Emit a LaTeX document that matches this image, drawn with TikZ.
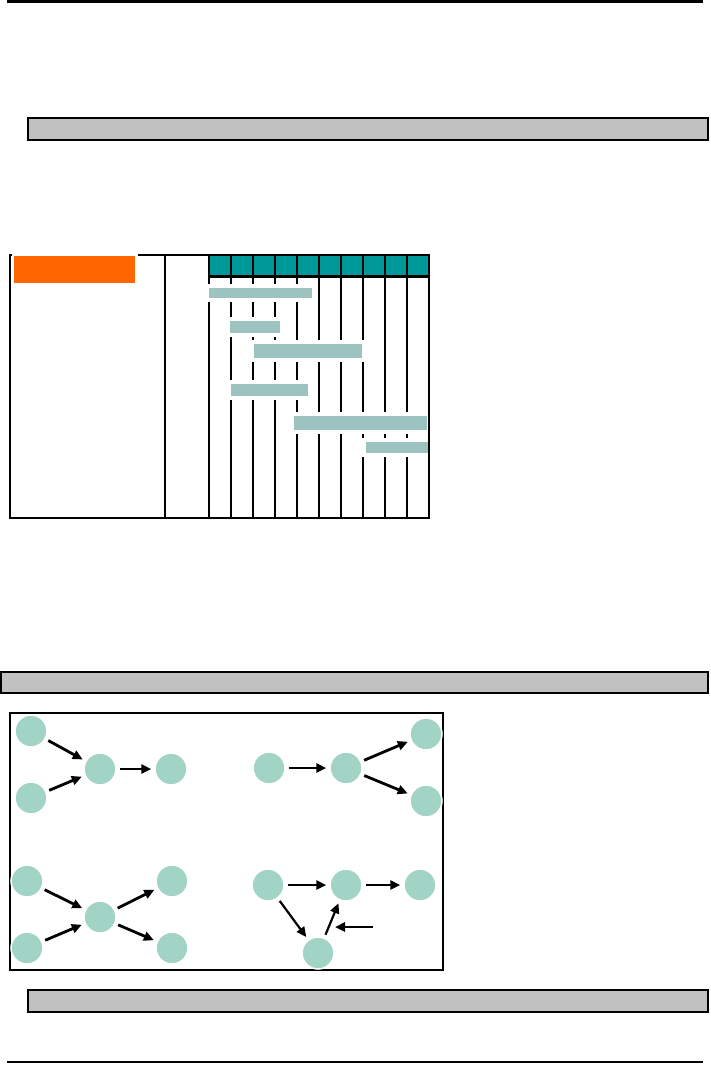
\documentclass[tikz,border=0pt]{standalone}
\usetikzlibrary{arrows.meta}
\definecolor{hdrteal}{RGB}{0,153,153}
\definecolor{barteal}{RGB}{157,195,193}
\definecolor{nodeteal}{RGB}{162,212,198}
\definecolor{boxgray}{RGB}{192,192,192}
\definecolor{tagorange}{RGB}{255,102,0}
\tikzset{
  state/.style={circle, fill=nodeteal, draw=white, line width=1.5pt, minimum size=32pt, inner sep=0pt},
  flow/.style={line width=2.8pt, -{Triangle[length=10pt,width=9pt]}, shorten <=3pt, shorten >=3pt},
  band/.style={fill=boxgray, draw=black, line width=2.2pt},
  task/.style={fill=barteal, preaction={draw=white, line width=8pt}}
}
\begin{document}
\begin{tikzpicture}[x=1pt,y=-1pt]
  \useasboundingbox (0,0) rectangle (710,1066);
  \draw[line width=2.5pt] (7,1.5) -- (703,1.5);
  \draw[band] (28,118) rectangle (708,140);
  % gantt chart
  \fill[hdrteal] (209,255) rectangle (429,276);
  \foreach \x in {209,231,...,429} \draw[line width=2.5pt] (\x,255) -- (\x,518);
  \draw[line width=3pt] (209,276) -- (429,276);
  \fill[task] (209,288) rectangle (312,298); \fill[task] (230,321) rectangle (280,333);
  \fill[task] (254,344) rectangle (362,358); \fill[task] (231,384) rectangle (308,396);
  \fill[task] (294,416) rectangle (427,430); \fill[task] (366,442) rectangle (428,453);
  \draw[line width=2.5pt] (10,255) rectangle (429,518); \draw[line width=2.5pt] (165,255) -- (165,518);
  \fill[tagorange, preaction={draw=white, line width=5pt}] (14,256) rectangle (135,283);
  \draw[band] (1,672) rectangle (708,693);
  % graph patterns
  \draw[line width=2.2pt] (10,713) rectangle (443,970);
  \node[state] (a1) at (31,731) {}; \node[state] (a2) at (31,798) {};
  \node[state] (a3) at (100,769) {}; \node[state] (a4) at (171,769) {};
  \draw[flow] (a1) -- (a3); \draw[flow] (a2) -- (a3); \draw[flow] (a3) -- (a4);
  \node[state] (b1) at (269,768) {}; \node[state] (b2) at (346,768) {};
  \node[state] (b3) at (426,734) {}; \node[state] (b4) at (426,801) {};
  \draw[flow] (b1) -- (b2); \draw[flow] (b2) -- (b3); \draw[flow] (b2) -- (b4);
  \node[state] (c1) at (27,881) {}; \node[state] (c2) at (27,948) {};
  \node[state] (c3) at (100,917) {};
  \node[state] (c4) at (172,881) {}; \node[state] (c5) at (172,948) {};
  \draw[flow] (c1) -- (c3); \draw[flow] (c2) -- (c3); \draw[flow] (c3) -- (c4); \draw[flow] (c3) -- (c5);
  \node[state] (d1) at (268,885) {}; \node[state] (d2) at (346,885) {};
  \node[state] (d3) at (420,885) {}; \node[state] (d4) at (318,953) {};
  \draw[flow] (d1) -- (d2); \draw[flow] (d2) -- (d3);
  \draw[flow, line width=2.2pt] (d1) -- (d4); \draw[flow, line width=2.2pt] (d4) -- (d2);
  \coordinate (feed) at (373,927); \coordinate (feedtip) at (335,927);
  \draw[flow, shorten <=0pt, shorten >=0pt] (feed) -- (feedtip);
  \draw[band] (28,990) rectangle (708,1012);
  \draw[line width=2.2pt] (7,1062) -- (703,1062);
\end{tikzpicture}
\end{document}
